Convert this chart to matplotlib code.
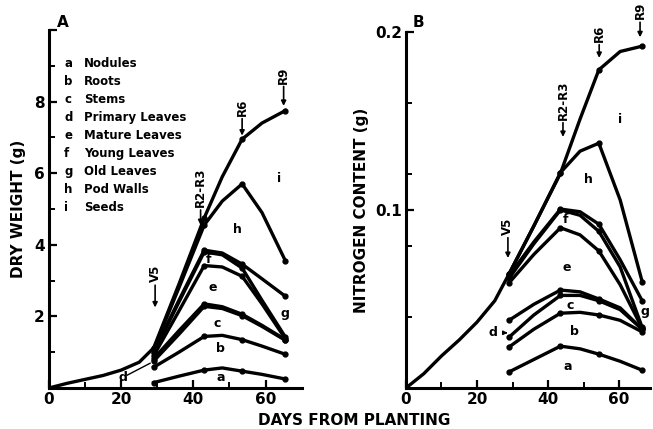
import numpy as np
import matplotlib.pyplot as plt

# ---- panel A : dry weight (g) ----
a_pre_days = [0, 5, 10, 15, 20, 25, 29]
a_pre = [0, 0.13, 0.24, 0.35, 0.5, 0.72, 1.12]
a_days = [29, 36, 43, 48, 53.5, 59, 65.5]
a_layers = {
    'a': [0.15, 0.33, 0.50, 0.56, 0.47, 0.38, 0.25],
    'b': [0.58, 1.0, 1.44, 1.47, 1.35, 1.17, 0.94],
    'c': [0.75, 1.5, 2.28, 2.22, 2.02, 1.72, 1.33],
    'd': [0.82, 1.6, 2.35, 2.27, 2.06, 1.75, 1.35],
    'e': [0.9, 2.15, 3.42, 3.38, 3.12, 2.35, 1.37],
    'f': [0.98, 2.4, 3.8, 3.72, 3.35, 2.45, 1.42],
    'g': [1.02, 2.45, 3.85, 3.77, 3.46, 3.05, 2.56],
    'h': [1.08, 2.8, 4.55, 5.22, 5.7, 4.9, 3.55],
    'i': [1.12, 2.9, 4.75, 5.9, 6.95, 7.4, 7.75],
}

# ---- panel B : nitrogen content (g) ----
b_pre_days = [0, 5, 10, 15, 20, 25, 29]
b_pre = [0, 0.008, 0.018, 0.027, 0.037, 0.049, 0.064]
b_days = [29, 36, 43.5, 49, 54.3, 60.3, 66.5]
b_layers = {
    'a': [0.009, 0.016, 0.0235, 0.022, 0.019, 0.015, 0.010],
    'b': [0.023, 0.033, 0.042, 0.0425, 0.041, 0.038, 0.0315],
    'c': [0.0285, 0.041, 0.052, 0.052, 0.049, 0.044, 0.033],
    'd': [0.038, 0.047, 0.055, 0.054, 0.050, 0.045, 0.033],
    'e': [0.059, 0.075, 0.090, 0.086, 0.077, 0.058, 0.0335],
    'f': [0.0615, 0.081, 0.100, 0.097, 0.088, 0.068, 0.034],
    'g': [0.063, 0.082, 0.1005, 0.099, 0.092, 0.072, 0.049],
    'h': [0.064, 0.091, 0.121, 0.133, 0.1375, 0.1056, 0.0597],
    'i': [0.064, 0.091, 0.1206, 0.151, 0.1787, 0.189, 0.192],
}

legend_keys = ['a', 'b', 'c', 'd', 'e', 'f', 'g', 'h', 'i']
legend_names = ['Nodules', 'Roots', 'Stems', 'Primary Leaves', 'Mature Leaves',
                'Young Leaves', 'Old Leaves', 'Pod Walls', 'Seeds']

plt.rcParams['font.family'] = 'DejaVu Sans'
plt.rcParams['font.weight'] = 'bold'

fig = plt.figure(figsize=(6.53, 4.29), dpi=100)
axA = fig.add_axes([0.075, 0.0956, 0.387, 0.8345])
axB = fig.add_axes([0.6217, 0.0956, 0.3737, 0.83])


def style(ax):
    for s in ['top', 'right']:
        ax.spines[s].set_visible(False)
    for s in ['left', 'bottom']:
        ax.spines[s].set_linewidth(2.2)
    ax.tick_params(which='major', direction='in', length=6, width=1.6, labelsize=11, pad=3)
    ax.tick_params(which='minor', direction='in', length=4, width=1.4)
    for lab in ax.get_xticklabels() + ax.get_yticklabels():
        lab.set_fontweight('bold')


def draw(ax, pre_days, pre, days, layers):
    ax.plot(pre_days, pre, color='k', lw=2.4, solid_capstyle='round')
    for k in legend_keys:
        ax.plot(days, layers[k], color='k', lw=2.4, marker='o', ms=3.5,
                markevery=[0, 2, 4, 6], solid_joinstyle='round')


def stage(ax, txt, x, ytext, ytip, fs=8.5):
    ax.annotate(txt, xy=(x, ytip), xytext=(x, ytext), rotation=90,
                ha='center', va='bottom', fontsize=fs, fontweight='bold',
                annotation_clip=False,
                arrowprops=dict(arrowstyle='-|>', color='k', lw=1.2,
                                mutation_scale=7, shrinkA=0, shrinkB=0))


# ---- A ----
draw(axA, a_pre_days, a_pre, a_days, a_layers)
axA.set_xlim(0, 70)
axA.set_ylim(0, 10)
axA.set_xticks([0, 20, 40, 60])
axA.set_xticks([10, 30, 50], minor=True)
axA.set_yticks([0, 2, 4, 6, 8, 10])
axA.set_yticklabels(['', '2', '4', '6', '8', ''])
axA.set_yticks([1, 3, 5, 7, 9], minor=True)
style(axA)
axA.set_ylabel('DRY WEIGHT (g)', fontsize=11, fontweight='bold', labelpad=6)
axA.text(2.2, 10.0, 'A', fontsize=11, fontweight='bold', ha='left', va='bottom')

for n, (k, name) in enumerate(zip(legend_keys, legend_names)):
    y = 9.05 - n * 0.5
    axA.text(4.2, y, k, fontsize=8.5, fontweight='bold', va='center')
    axA.text(9.8, y, name, fontsize=8.5, fontweight='bold', va='center')

stage(axA, 'V5', 29.4, 2.95, 2.25)
stage(axA, 'R2-R3', 42, 5.05, 4.55)
stage(axA, 'R6', 53.5, 7.6, 7.05)
stage(axA, 'R9', 65, 8.5, 7.88)

for k, x, y in [('i', 63.6, 5.86), ('h', 52.2, 4.42), ('f', 44.2, 3.6), ('e', 45.3, 2.8),
                ('c', 46.7, 1.8), ('b', 47.5, 1.1), ('a', 47.5, 0.28), ('g', 65.3, 2.08)]:
    axA.text(x, y, k, fontsize=9, fontweight='bold', ha='center', va='center')
axA.text(20.6, 0.28, 'd', fontsize=9, fontweight='bold', ha='center', va='center')
axA.plot([21.7, 28], [0.36, 0.69], color='k', lw=1)

# ---- B ----
draw(axB, b_pre_days, b_pre, b_days, b_layers)
axB.set_xlim(0, 68.7)
axB.set_ylim(0, 0.2)
axB.set_xticks([0, 20, 40, 60])
axB.set_xticks([10, 30, 50], minor=True)
axB.set_yticks([0.1, 0.2])
axB.set_yticklabels(['0.1', '0.2'])
axB.set_yticks([0.04, 0.08, 0.12, 0.16], minor=True)
style(axB)
axB.set_ylabel('NITROGEN CONTENT (g)', fontsize=11, fontweight='bold', labelpad=4)
axB.text(2.0, 0.201, 'B', fontsize=11, fontweight='bold', ha='left', va='bottom')

stage(axB, 'V5', 28.7, 0.086, 0.073)
stage(axB, 'R2-R3', 44.2, 0.1506, 0.141)
stage(axB, 'R6', 54.4, 0.1944, 0.1854)
stage(axB, 'R9', 65.9, 0.207, 0.197)

for k, x, y in [('i', 60.3, 0.1506), ('h', 51.3, 0.117), ('f', 45, 0.0944), ('e', 45.3, 0.0674),
                ('c', 46.2, 0.0466), ('b', 47.3, 0.0315), ('a', 45.6, 0.0118), ('g', 67.3, 0.0427)]:
    axB.text(x, y, k, fontsize=9, fontweight='bold', ha='center', va='center')
axB.annotate('d', xy=(28.6, 0.031), xytext=(24.5, 0.031), fontsize=9, fontweight='bold',
             ha='center', va='center',
             arrowprops=dict(arrowstyle='-|>', color='k', lw=1, mutation_scale=6,
                             shrinkA=4, shrinkB=0))

fig.text(0.543, 0.003, 'DAYS FROM PLANTING', fontsize=11, fontweight='bold',
         ha='center', va='bottom')

fig.savefig('out.png', dpi=100)
